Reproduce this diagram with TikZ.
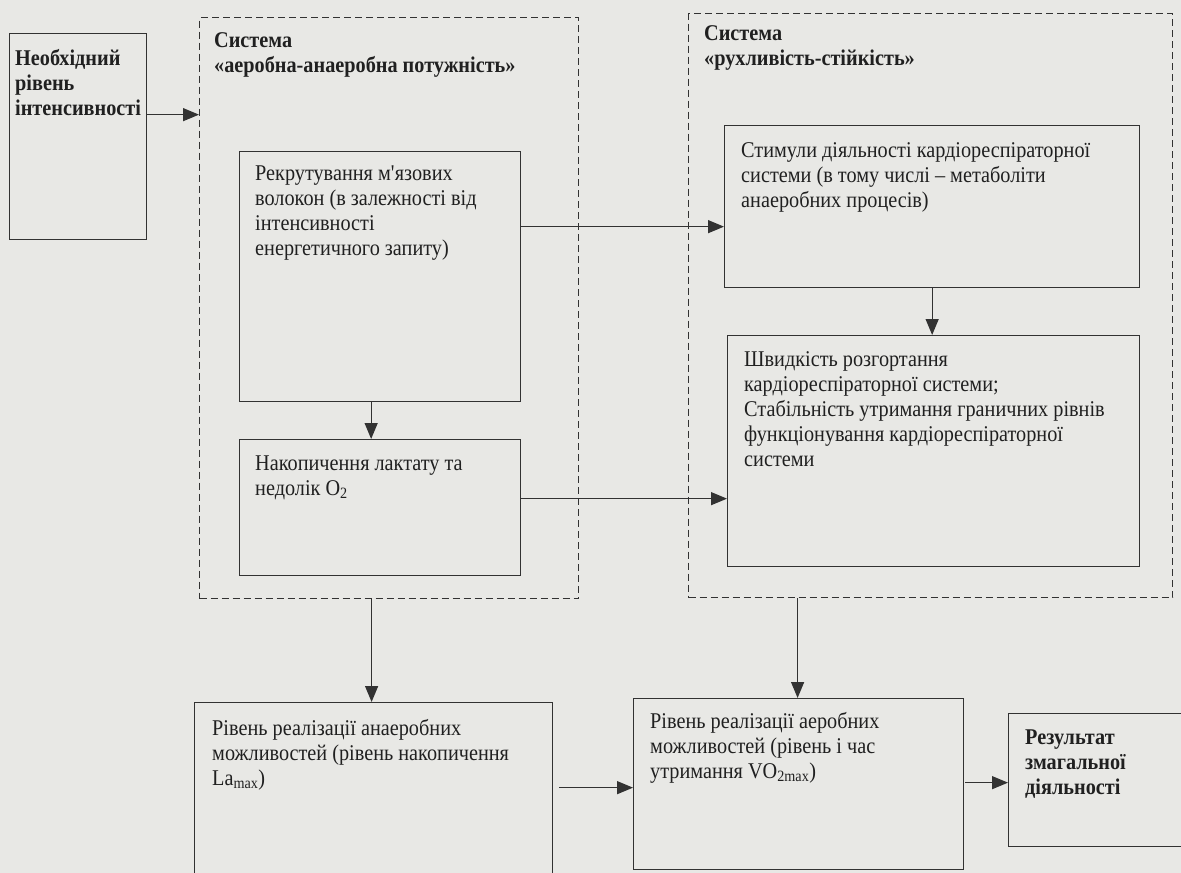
\documentclass[tikz,border=0pt]{standalone}
\usepackage{fontspec}
\setmainfont{Liberation Serif}[FakeStretch=0.9]
\usetikzlibrary{arrows.meta}
\definecolor{paper}{RGB}{232,232,229}
\definecolor{ink}{RGB}{32,32,32}
\definecolor{lineink}{RGB}{50,50,50}
\tikzset{
  box/.style={draw=lineink, line width=1.3pt, inner sep=0pt, anchor=north west},
  sysbox/.style={draw=lineink, line width=1.2pt, dash pattern=on 7pt off 4pt, inner sep=0pt, anchor=north west},
  txt/.style={anchor=base west, inner sep=0pt, text=ink, font=\fontsize{22.5}{25}\selectfont},
  btxt/.style={anchor=base west, inner sep=0pt, text=ink, font=\fontsize{22.5}{25}\selectfont\bfseries},
  arr/.style={draw=lineink, line width=1.3pt, -{Triangle[length=16pt,width=13pt]}},
}
\newcommand{\lines}[1]{\parbox[t]{460pt}{\raggedright #1}}
\begin{document}
\begin{tikzpicture}[x=1pt,y=-1pt]
\useasboundingbox (0,0) rectangle (1181,873);
\fill[paper] (0,0) rectangle (1181,873);
\clip (0,0) rectangle (1181,873);

% dashed systems
\node[sysbox, minimum width=379pt, minimum height=581pt] (sysA) at (199,17) {};
\node[sysbox, minimum width=484pt, minimum height=584pt] (sysB) at (688,13) {};

% boxes
\node[box, minimum width=137pt, minimum height=206pt] (need) at (9,33) {};
\node[box, minimum width=281pt, minimum height=250pt] (recruit) at (239,151) {};
\node[box, minimum width=281pt, minimum height=136pt] (lact) at (239,439) {};
\node[box, minimum width=415pt, minimum height=162pt] (stim) at (724,125) {};
\node[box, minimum width=412pt, minimum height=231pt] (shv) at (727,335) {};
\node[box, minimum width=358pt, minimum height=198pt] (La) at (194,702) {};
\node[box, minimum width=330pt, minimum height=171pt] (VO2) at (633,698) {};
\node[box, minimum width=192pt, minimum height=133pt] (res) at (1008,713) {};

% texts
\node[btxt] (needT) at (15,65) {\lines{Необхідний\\рівень\\інтенсивності}};
\node[btxt] (sysAT) at (214,47) {\lines{Система\\«аеробна-анаеробна потужність»}};
\node[btxt] (sysBT) at (704,40) {\lines{Система\\«рухливість-стійкість»}};
\node[txt] (recruitT) at (255,180) {\lines{Рекрутування м\textquotesingle язових\\волокон (в залежності від\\інтенсивності\\енергетичного запиту)}};
\node[txt] (lactT) at (255,470) {\lines{Накопичення лактату та\\недолік O\textsubscript{2}}};
\node[txt] (stimT) at (741,157) {\lines{Стимули діяльності кардіореспіраторної\\системи (в тому числі -- метаболіти\\анаеробних процесів)}};
\node[txt] (shvT) at (744,366) {\lines{Швидкість розгортання\\кардіореспіраторної системи;\\Стабільність утримання граничних рівнів\\функціонування кардіореспіраторної\\системи}};
\node[txt] (LaT) at (212,735) {\lines{Рівень реалізації анаеробних\\можливостей (рівень накопичення\\La\textsubscript{max})}};
\node[txt] (VO2T) at (650,728) {\lines{Рівень реалізації аеробних\\можливостей (рівень і час\\утримання VO\textsubscript{2max})}};
\node[btxt] (resT) at (1025,744) {\lines{Результат\\змагальної\\діяльності}};

% connectors
\draw[arr] ([yshift=22pt]need.east) -- ([yshift=22pt]need.east -| sysA.west);
\draw[arr] ([yshift=50pt]recruit.east) -- ([yshift=50pt]recruit.east -| stim.west);
\draw[arr] ([xshift=-9pt]recruit.south) -- ([xshift=-9pt]recruit.south |- lact.north);
\draw[arr] ([yshift=9pt]lact.east) -- ([yshift=9pt]lact.east -| shv.west);
\draw[arr] (stim.south) -- (stim.south |- shv.north);
\draw[arr] ([xshift=-17.5pt]sysA.south) -- ([xshift=-17.5pt]sysA.south |- La.north);
\draw[arr] ([xshift=-133pt]sysB.south) -- ([xshift=-133pt]sysB.south |- VO2.north);
\draw[arr] ([shift={(6pt,14pt)}]La.east) -- ([yshift=14pt]La.east -| VO2.west);
\draw[arr] ([shift={(1pt,1.5pt)}]VO2.east) -- ([yshift=1.5pt]VO2.east -| res.west);
\end{tikzpicture}
\end{document}
